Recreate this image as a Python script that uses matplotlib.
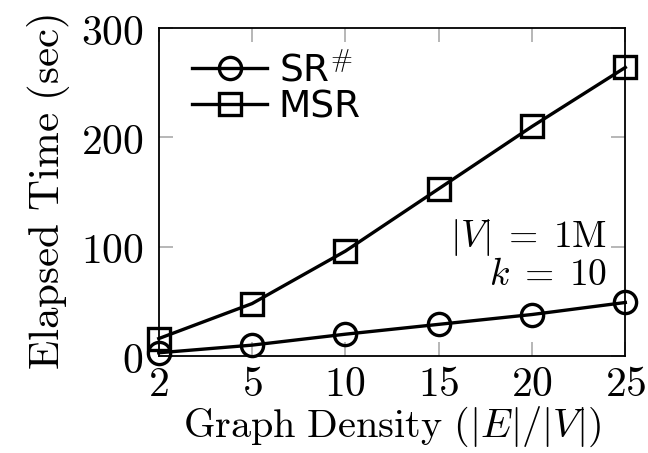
import numpy as np
import matplotlib
matplotlib.use('Agg')
import matplotlib.pyplot as plt

plt.rcParams['mathtext.fontset'] = 'cm'
plt.rcParams['font.family'] = 'DejaVu Sans'

# Data
density = ['2', '5', '10', '15', '20', '25']
sr_sharp = [3, 10, 20, 29, 38, 49]
msr = [16, 48, 96, 153, 210, 264]

fig = plt.figure(figsize=(6.48, 4.53), dpi=100)
ax = fig.add_axes([0.245, 0.214, 0.72, 0.724])

xpos = np.arange(len(density))
ax.plot(xpos, sr_sharp, color='black', linewidth=2.4, marker='o', markersize=16,
        markerfacecolor='none', markeredgewidth=2.4, label='SR$^{\\#}$', clip_on=False, zorder=10)
ax.plot(xpos, msr, color='black', linewidth=2.4, marker='s', markersize=16,
        markerfacecolor='none', markeredgewidth=2.4, label='MSR', clip_on=False, zorder=10)

ax.set_xlim(0, len(density) - 1)
ax.set_ylim(0, 300)
ax.set_xticks(xpos, ['$%s$' % d for d in density])
ax.set_yticks([0, 100, 200, 300], ['$0$', '$100$', '$200$', '$300$'])
ax.tick_params(direction='in', length=10, width=1.2, color='#aaaaaa', labelsize=30,
               top=True, right=True)
ax.tick_params(axis='x', pad=5)
ax.tick_params(axis='y', pad=11)
for s in ax.spines.values():
    s.set_linewidth(1.3)

ax.set_xlabel(r'$\mathrm{Graph\ Density\ }(|E|/|V|)$', fontsize=29, labelpad=0)
ax.set_ylabel(r'$\mathrm{Elapsed\ Time\ (sec)}$', fontsize=31, labelpad=6)

ax.text(0.962, 0.36, r'$|V|\;=\;1\mathrm{M}$', transform=ax.transAxes, ha='right',
        va='center', fontsize=27)
ax.text(0.96, 0.247, r'$k\;=\;10$', transform=ax.transAxes, ha='right',
        va='center', fontsize=27)

ax.legend(loc='upper left', frameon=False, fontsize=27, handlelength=2.0,
          handletextpad=0.3, labelspacing=0.0, borderaxespad=0.0,
          bbox_to_anchor=(0.04, 0.97))

plt.savefig('out.png', dpi=100)
